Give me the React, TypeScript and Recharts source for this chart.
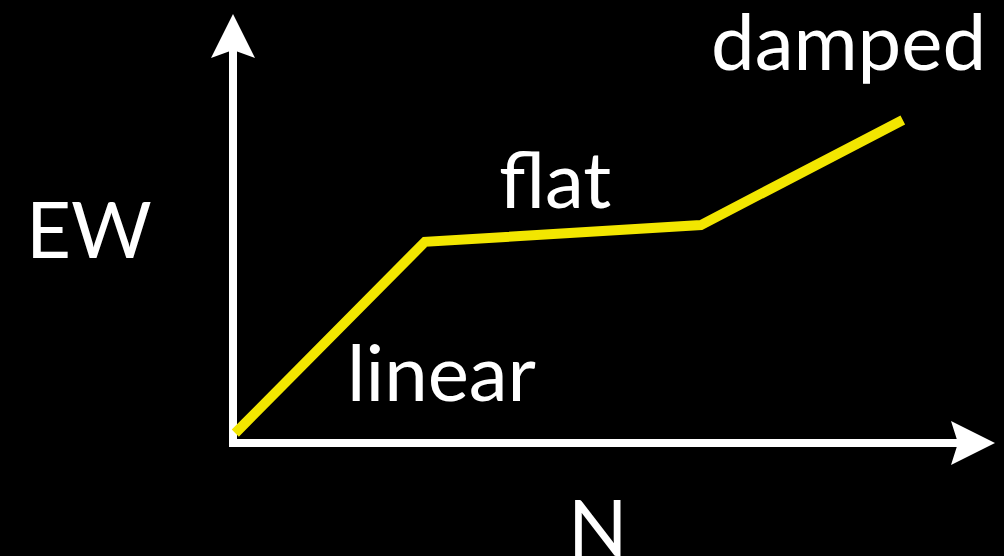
import { LineChart, Line, XAxis, YAxis, ReferenceLine, ReferenceDot } from "recharts";

// regimes of the curve of growth
const nValues = [0.3, 25.2, 61.4, 87.9];
const ewValues = [2.3, 46.9, 50.8, 75.3];

const regimeLabels = ["linear", "flat", "damped"];
const xAxisTitle = "N";
const yAxisTitle = "EW";

const chartData = nValues.map((n, i) => ({ n, ew: ewValues[i] }));

const YELLOW = "#F2E600";
const FONT = "Lato, 'Open Sans', sans-serif";

// arrowhead pointing up, tip at (cx, cy)
const UpArrow = ({ cx, cy }: { cx?: number; cy?: number }) => {
  if (cx == null || cy == null) return null;
  return (
    <polygon
      points={`${cx},${cy} ${cx + 22},${cy + 44} ${cx},${cy + 36} ${cx - 22},${cy + 44}`}
      fill="#fff"
    />
  );
};

// arrowhead pointing right, tip at (cx, cy)
const RightArrow = ({ cx, cy }: { cx?: number; cy?: number }) => {
  if (cx == null || cy == null) return null;
  return (
    <polygon
      points={`${cx},${cy} ${cx - 44},${cy + 22} ${cx - 37},${cy} ${cx - 44},${cy - 22}`}
      fill="#fff"
    />
  );
};

const textStyle = { fontFamily: FONT, fontSize: 78, fill: "#fff" };

export default function App() {
  return (
    <div style={{ position: "absolute", top: 0, left: 0, width: 1004, height: 556, background: "#000", overflow: "hidden" }}>
      <LineChart
        width={1004}
        height={556}
        data={chartData}
        margin={{ top: 14, right: 9, left: 233, bottom: 113 }}
      >
        <XAxis type="number" dataKey="n" domain={[0, 100]} hide />
        <YAxis type="number" domain={[0, 100]} hide />

        {/* axes: shafts stop under the arrowheads */}
        <ReferenceLine
          segment={[{ x: 0, y: 0 }, { x: 0, y: 95 }]}
          stroke="#fff"
          strokeWidth={8}
          strokeLinecap="square"
        />
        <ReferenceLine
          segment={[{ x: 0, y: 0 }, { x: 95, y: 0 }]}
          stroke="#fff"
          strokeWidth={8}
          strokeLinecap="square"
        />
        <ReferenceDot x={0} y={100} shape={UpArrow} />
        <ReferenceDot x={100} y={0} shape={RightArrow} />

        <Line
          dataKey="ew"
          type="linear"
          stroke={YELLOW}
          strokeWidth={10}
          strokeLinejoin="miter"
          dot={false}
          activeDot={false}
          isAnimationActive={false}
        />

        <text x={26} y={258} style={textStyle}>{yAxisTitle}</text>
        <text x={568} y={556} style={textStyle}>{xAxisTitle}</text>
        <text x={347} y={401} style={textStyle}>{regimeLabels[0]}</text>
        <text x={499} y={208} style={textStyle}>{regimeLabels[1]}</text>
        <text x={711} y={70} style={textStyle}>{regimeLabels[2]}</text>
      </LineChart>
    </div>
  );
}
